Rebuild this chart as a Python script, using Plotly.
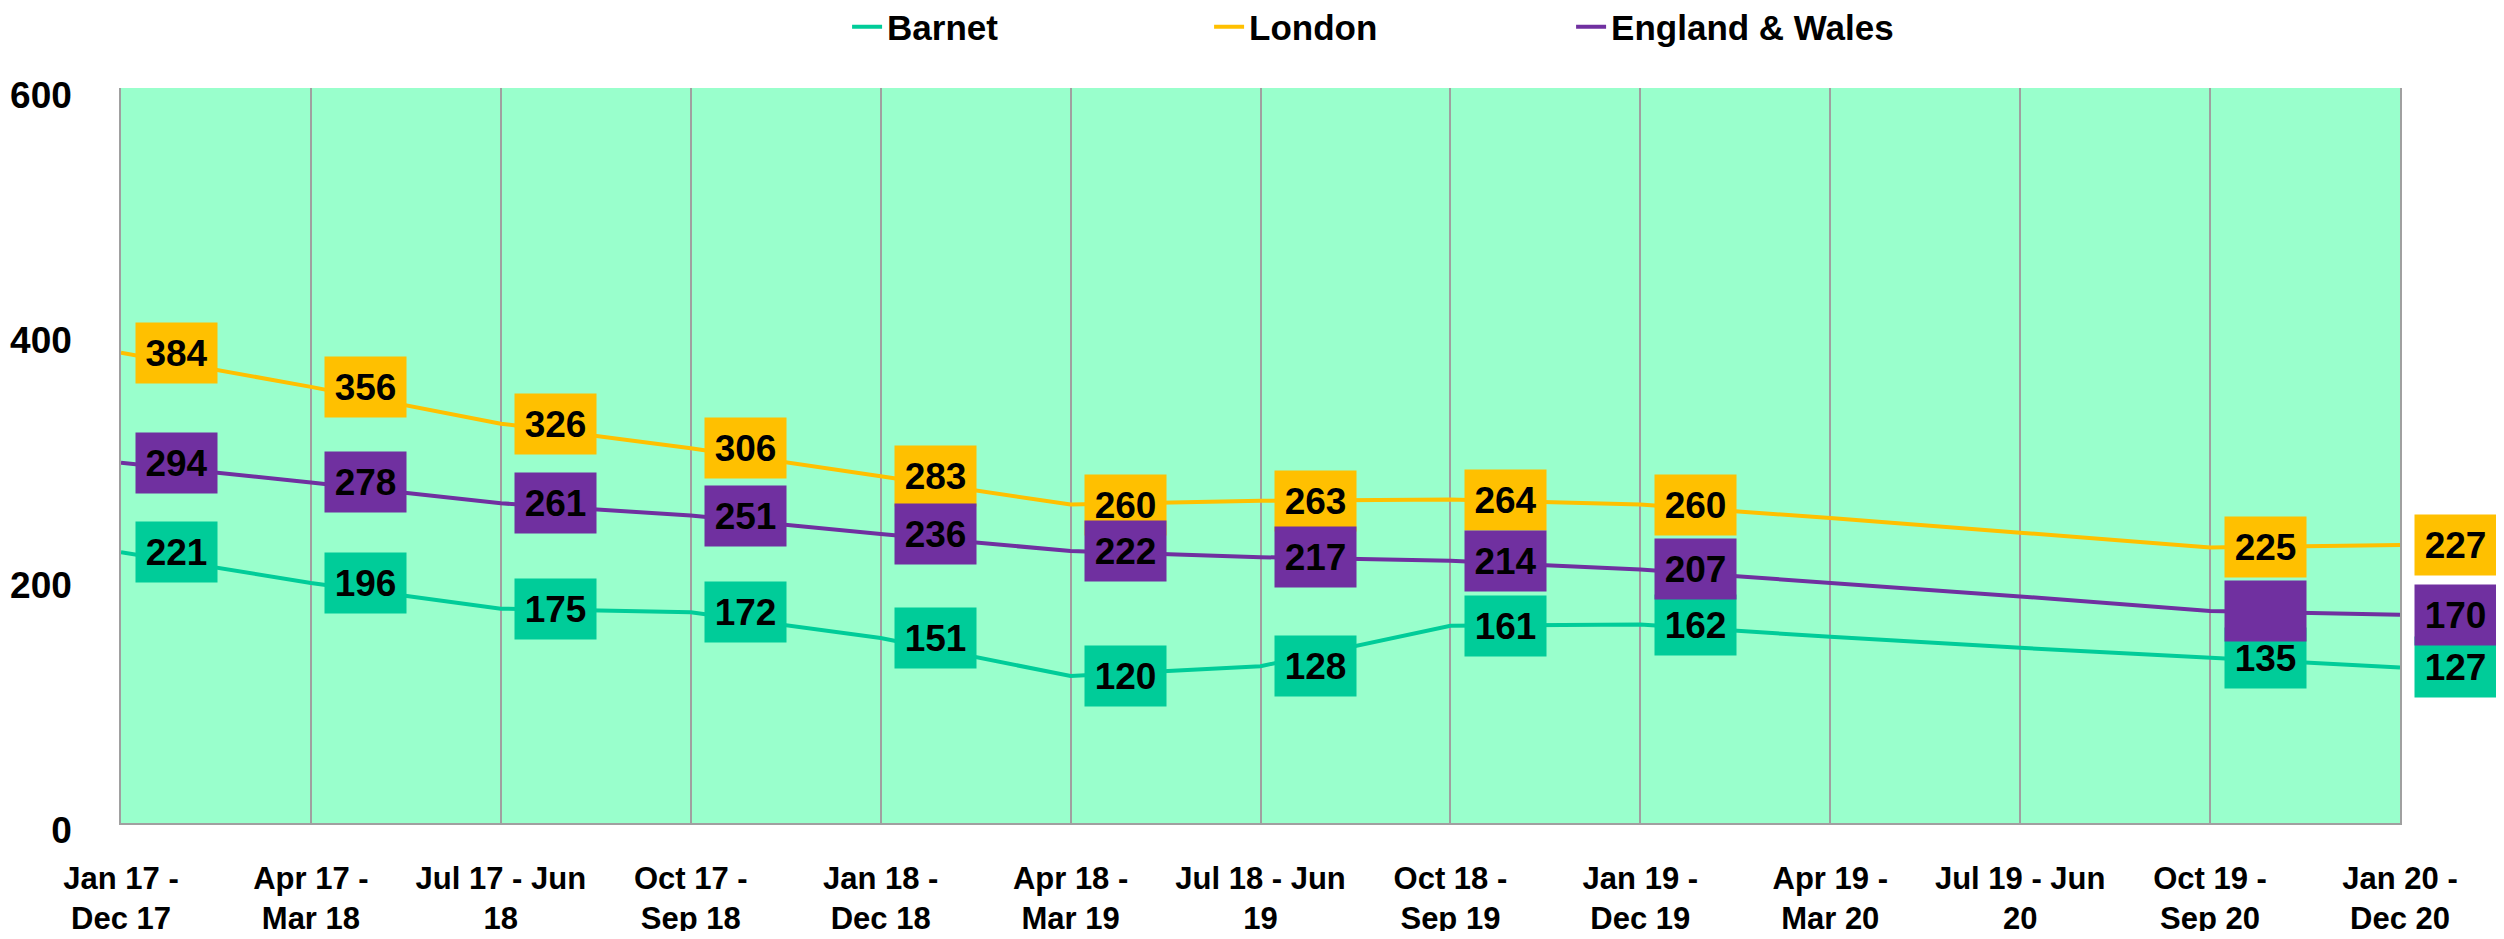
import plotly.graph_objects as go

# periods (rolling 12 months)
periods = [
    "Jan 17 -<br>Dec 17", "Apr 17 -<br>Mar 18", "Jul 17 - Jun<br>18",
    "Oct 17 -<br>Sep 18", "Jan 18 -<br>Dec 18", "Apr 18 -<br>Mar 19",
    "Jul 18 - Jun<br>19", "Oct 18 -<br>Sep 19", "Jan 19 -<br>Dec 19",
    "Apr 19 -<br>Mar 20", "Jul 19 - Jun<br>20", "Oct 19 -<br>Sep 20",
    "Jan 20 -<br>Dec 20",
]

barnet = [221, 196, 175, 172, 151, 120, 128, 161, 162, 152, 143, 135, 127]
london = [384, 356, 326, 306, 283, 260, 263, 264, 260, 249, 237, 225, 227]
england_wales = [294, 278, 261, 251, 236, 222, 217, 214, 207, 196, 185, 173, 170]

# which points carry a data label box (and whether the number is printed)
labelled = [True] * 9 + [False, False, True, True]
ew_text_shown = [True] * 11 + [False, True]

series = [
    ("Barnet", barnet, "#00CC99", [True] * 13),
    ("London", london, "#FFC000", [True] * 13),
    ("England & Wales", england_wales, "#7030A0", ew_text_shown),
]

FONT = "Liberation Sans, Arial, sans-serif"

fig = go.Figure()
for name, vals, color, _ in series:
    fig.add_trace(go.Scatter(
        x=periods, y=vals, name=name, mode="lines",
        line=dict(color=color, width=4),
    ))

# label boxes: Barnet, then London, then England & Wales on top
for name, vals, color, text_shown in series:
    for i, v in enumerate(vals):
        if not labelled[i]:
            continue
        fig.add_annotation(
            x=periods[i], y=v, xref="x", yref="y",
            text=str(v) if text_shown[i] else " ",
            showarrow=False, xshift=55,
            bgcolor=color, borderpad=0, width=81, height=60,
            font=dict(family=FONT, size=37, color="black", weight="bold"),
        )

# page body keeps an 8px margin, so the figure is 16px smaller than the window
fig.update_layout(
    width=2488, height=923,
    margin=dict(l=113, r=96, t=80, b=108, autoexpand=False),
    paper_bgcolor="white",
    plot_bgcolor="#99FFCC",
    font=dict(family=FONT, color="black"),
    showlegend=True,
    legend=dict(
        orientation="h", x=0.3186, xanchor="left", y=1.083, yanchor="middle",
        font=dict(size=35, weight="bold"),
        entrywidth=317, entrywidthmode="pixels",
        bgcolor="rgba(0,0,0,0)",
    ),
)

fig.update_xaxes(
    type="category", range=[0, 12], automargin=False,
    showgrid=True, gridcolor="#A0A0A0", gridwidth=1.5,
    showline=True, linecolor="#A0A0A0", linewidth=1.5,
    ticks="outside", ticklen=27, tickcolor="rgba(0,0,0,0)",
    tickfont=dict(size=31, weight="bold"),
    zeroline=False,
)
fig.update_yaxes(
    range=[0, 600], tickvals=[0, 200, 400, 600], automargin=False,
    showgrid=False, zeroline=False,
    showline=True, mirror=True, linecolor="#A0A0A0", linewidth=1.5,
    ticks="outside", ticklen=40, tickcolor="rgba(0,0,0,0)",
    ticklabelshift=7,
    tickfont=dict(size=37, weight="bold"),
)

fig.write_html("out.html")
